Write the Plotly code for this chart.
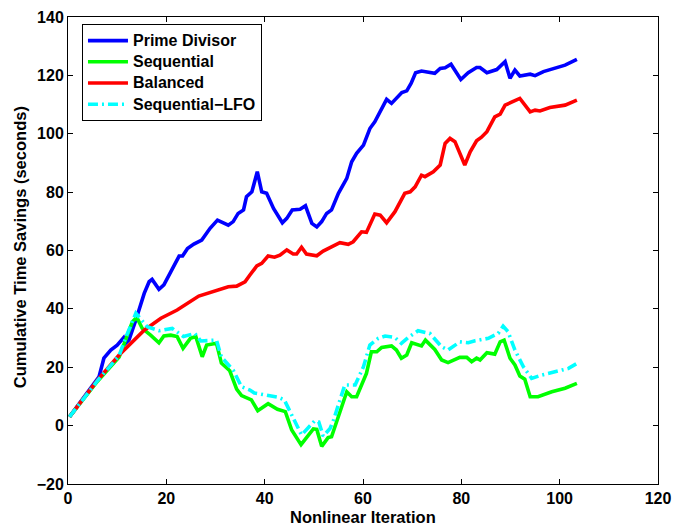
import plotly.graph_objects as go

# Prime Divisor
pd_x = [0.3, 6.3, 7.3, 8.7, 10.0, 11.3, 11.7, 12.4, 13.8, 15.5, 16.5, 17.1, 18.5, 19.5, 20.9, 21.6, 22.6, 23.3,
        24.3, 25.6, 27.2, 28.9, 30.4, 32.6, 33.6, 34.6, 35.7, 36.3, 37.4, 38.5, 39.4, 40.4, 41.8, 43.6, 44.5, 45.6,
        47.2, 48.3, 49.6, 50.6, 51.6, 52.6, 53.6, 55.0, 56.7, 57.7, 58.7, 60.1, 61.4, 62.4, 64.8, 65.8, 67.9, 68.9,
        69.8, 70.7, 71.9, 74.6, 75.7, 76.7, 77.9, 79.9, 81.4, 83.1, 83.8, 85.2, 87.2, 88.9, 89.9, 90.9, 91.9, 94.0,
        95.0, 96.7, 98.4, 101.1, 103.5]
pd_y = [3, 16.7, 23.1, 25.9, 27.6, 30.1, 28.2, 29.3, 36.2, 45.3, 49.3, 50.1, 46.7, 48.2, 52.7, 55, 58.1, 58.1,
        60.7, 62.2, 63.6, 67.6, 70.4, 68.7, 69.9, 72.7, 73.9, 78.4, 80.1, 87.0, 80.1, 79.6, 74.4, 69.5, 71, 73.9,
        74.1, 75.3, 69.3, 68.1, 69.9, 72.7, 73.9, 79.6, 84.7, 90.4, 93.3, 96.1, 101.8, 104.1, 111.8, 110.4, 114.1, 114.7,
        117.3, 120.9, 121.5, 120.7, 122.4, 122.6, 123.8, 118.6, 120.9, 122.7, 122.7, 120.9, 122.0, 124.7, 119, 121.8, 119.8, 120.4,
        119.9, 121.3, 122.2, 123.5, 125.5]

# Sequential
sq_x = [0.3, 6.0, 10.4, 11.7, 13.1, 14.0, 15.1, 16.8, 18.5, 19.5, 20.9, 22.2, 23.4, 24.9, 26.0, 27.3, 28.2, 30.2,
        31.2, 32.9, 34.3, 35.3, 37.3, 38.6, 40.7, 42.6, 44.2, 45.5, 47.4, 49.9, 50.6, 51.6, 52.9, 53.6, 55.0, 56.7,
        57.7, 58.7, 60.7, 61.7, 62.8, 63.8, 65.8, 66.8, 67.8, 68.9, 69.9, 71.9, 72.7, 74.6, 76.0, 77.3, 79.7, 81.1,
        82.1, 83.1, 83.8, 85.2, 86.8, 87.9, 88.7, 89.9, 90.9, 91.9, 92.9, 94.0, 95.6, 98.4, 101.1, 103.5]
sq_y = [3, 15.2, 23.5, 29.3, 35.6, 37.1, 33.3, 31, 28.4, 30.7, 31, 30.5, 26.5, 29.9, 30.5, 23.6, 27.6, 28.2,
        21.4, 18.8, 12.5, 10.3, 8.8, 5.1, 7.5, 5.6, 4.8, -1.5, -6.5, -1.1, -1.3, -7.1, -4.1, -3.8, 3.0, 11.6,
        9.9, 9.9, 17.9, 25.3, 25.3, 26.8, 27.3, 25.9, 23.1, 24.2, 28.4, 27.3, 29.3, 26.1, 22.5, 21.6, 23.4, 23.4,
        21.9, 23.1, 22.5, 25, 24.5, 28.7, 29.3, 23.1, 20.8, 17, 15.9, 9.9, 9.9, 11.6, 12.8, 14.5]

# Balanced
bl_x = [0.3, 6.0, 10.4, 12.7, 15.5, 18.9, 22.2, 26.6, 28.5, 32.6, 34.3, 36.0, 37.0, 38.4, 39.4, 40.7, 42.0, 43.1,
        44.5, 45.8, 46.5, 47.5, 48.5, 50.6, 51.9, 53.3, 55.3, 57.0, 58.0, 59.7, 60.7, 62.4, 63.5, 64.8, 66.5, 68.5,
        69.6, 70.6, 71.9, 72.6, 74.3, 75.7, 76.7, 77.7, 78.7, 80.7, 81.8, 83.1, 84.1, 85.2, 86.8, 87.9, 88.9, 91.9,
        94.0, 95.0, 96.0, 98.0, 101.1, 103.5]
bl_y = [3, 15.6, 24.2, 28.2, 32.7, 36.8, 39.6, 44.4, 45.5, 47.6, 47.8, 49.3, 51.6, 54.7, 55.6, 58.1, 57.7, 58.4,
        60.2, 58.8, 58.8, 61.1, 58.8, 58.2, 59.8, 61.1, 62.7, 62.1, 63.0, 66.4, 66.2, 72.5, 72.1, 69.5, 73.3, 79.6,
        80.1, 81.8, 85.8, 85.3, 87.0, 89.3, 96.7, 98.4, 97.3, 89.3, 93.8, 97.6, 98.8, 100.7, 105.8, 106.7, 109.8, 112.1,
        107.5, 108.1, 107.8, 109.0, 109.8, 111.5]

# Sequential-LFO
lfo_x = [0.3, 6.0, 10.4, 11.7, 13.8, 16.1, 18.5, 21.2, 23.5, 25.8, 27.0, 30.2, 31.2, 33.6, 35.3, 37.0, 37.9, 40.7,
         42.8, 44.0, 46.2, 47.5, 50.2, 51.0, 51.9, 53.3, 54.0, 56.3, 58.4, 60.1, 61.4, 63.1, 64.5, 66.5, 67.8, 69.2,
         71.2, 73.6, 76.0, 77.3, 79.7, 81.4, 82.8, 85.5, 87.5, 88.5, 89.5, 90.9, 92.6, 94.3, 96.3, 99.0, 101.8, 103.5]
lfo_y = [3, 15.4, 24, 30, 38.5, 33.9, 32.5, 33.3, 30.5, 31.6, 29, 29.3, 23.5, 19, 13.3, 12.2, 11.2, 10.5,
         9.7, 8.8, 0.8, -3.2, 1.7, 1.3, -3.6, -1, 1.9, 13.9, 13.9, 20.2, 27.6, 29.9, 30.7, 30.2, 28.2, 30.2,
         32.5, 31.6, 27, 25.9, 28.7, 28.4, 29.1, 29.9, 31.6, 34.1, 32.2, 25.9, 20.2, 16.2, 17.3, 18.5, 19.6, 21.3]

series_names = ["Prime Divisor", "Sequential", "Balanced", "Sequential\u2212LFO"]
x_ticks = [0, 20, 40, 60, 80, 100, 120]
y_ticks = [-20, 0, 20, 40, 60, 80, 100, 120, 140]
x_title = "Nonlinear Iteration"
y_title = "Cumulative Time Savings (seconds)"

FONT = "Liberation Sans"
LW = 3.6


def leg(name):
    return '<span style="font-size:16px">' + name + '</span>'


fig = go.Figure()
fig.add_trace(go.Scatter(x=pd_x, y=pd_y, mode="lines", name=leg(series_names[0]),
                         line=dict(color="#0000FF", width=LW)))
fig.add_trace(go.Scatter(x=sq_x, y=sq_y, mode="lines", name=leg(series_names[1]),
                         line=dict(color="#00FF00", width=LW)))
fig.add_trace(go.Scatter(x=bl_x, y=bl_y, mode="lines", name=leg(series_names[2]),
                         line=dict(color="#FF0000", width=LW)))
fig.add_trace(go.Scatter(x=lfo_x, y=lfo_y, mode="lines", name=leg(series_names[3]),
                         line=dict(color="#00FFFF", width=LW, dash="10px,4px,2px,4px")))

axis_common = dict(
    showgrid=False, zeroline=False, showline=True, linecolor="black", linewidth=1,
    mirror="ticks", ticks="inside", ticklen=5, tickcolor="black", tickwidth=1,
    automargin=False,
    tickfont=dict(family=FONT, size=16, color="black", weight="bold"),
)

# page body has an 8px margin, so the figure is slightly smaller than the window
fig.update_layout(
    width=672, height=521,
    margin=dict(l=60, r=22, t=9, b=45),
    plot_bgcolor="white", paper_bgcolor="white",
    xaxis=dict(range=[0, 120], tickvals=x_ticks, **axis_common),
    yaxis=dict(range=[-20, 140], tickvals=y_ticks, **axis_common),
    legend=dict(x=0.0237, y=0.985, xanchor="left", yanchor="top",
                bgcolor="white", bordercolor="black", borderwidth=1,
                font=dict(family=FONT, size=14, color="black", weight="bold"),
                itemwidth=40, tracegroupgap=0),
    showlegend=True,
    annotations=[
        dict(text=x_title, xref="paper", yref="paper", x=0.5, y=-33 / 467,
             xanchor="center", yanchor="middle", showarrow=False,
             font=dict(family=FONT, size=16.5, color="black", weight="bold")),
        dict(text=y_title, xref="paper", yref="paper", x=-48 / 590, y=0.507,
             xanchor="center", yanchor="middle", showarrow=False, textangle=-90,
             font=dict(family=FONT, size=16.5, color="black", weight="bold")),
    ],
)

fig.write_html("out.html")
